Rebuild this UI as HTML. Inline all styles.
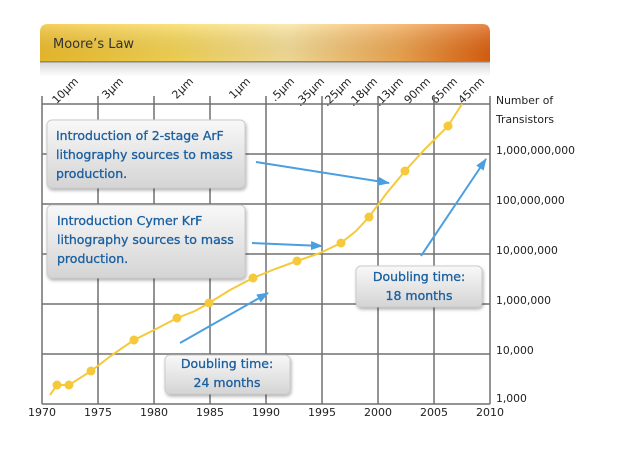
<!DOCTYPE html>
<html><head><meta charset="utf-8"><style>
body{margin:0;background:#fff;width:636px;height:450px;overflow:hidden}
svg{display:block;font-family:"DejaVu Sans","Liberation Sans",sans-serif}
</style></head><body>
<svg width="636" height="450" viewBox="0 0 636 450" xmlns="http://www.w3.org/2000/svg">
<defs>
<linearGradient id="hd" x1="0" x2="1" y1="0" y2="0">
<stop offset="0" stop-color="#f2c02a"/><stop offset="0.3" stop-color="#fad955"/><stop offset="0.55" stop-color="#fbe39a"/><stop offset="0.8" stop-color="#f3a850"/><stop offset="1" stop-color="#e0600c"/></linearGradient>
<linearGradient id="hv" x1="0" x2="0" y1="0" y2="1"><stop offset="0" stop-color="#fff" stop-opacity="0.25"/><stop offset="1" stop-color="#000" stop-opacity="0.05"/></linearGradient>
<linearGradient id="band" x1="0" x2="0" y1="0" y2="1"><stop offset="0" stop-color="#d8d8d8"/><stop offset="1" stop-color="#fff"/></linearGradient>
<linearGradient id="bx" x1="0" x2="0" y1="0" y2="1"><stop offset="0" stop-color="#f8f8f8"/><stop offset="1" stop-color="#d4d4d4"/></linearGradient>
<filter id="sh" x="-10%" y="-10%" width="125%" height="130%"><feDropShadow dx="1" dy="2" stdDeviation="1.5" flood-color="#000" flood-opacity="0.3"/></filter>
<marker id="ar" markerWidth="12" markerHeight="9" refX="11" refY="4.5" orient="auto" markerUnits="userSpaceOnUse"><path d="M0,0 L12,4.5 L0,9 z" fill="#4a9fe0"/></marker>
</defs>
<path d="M40,62 V32 Q40,24 48,24 H482 Q490,24 490,32 V62 Z" fill="url(#hd)"/>
<path d="M40,62 V32 Q40,24 48,24 H482 Q490,24 490,32 V62 Z" fill="url(#hv)"/>
<rect x="40" y="61" width="450" height="1.5" fill="#888"/>
<rect x="40" y="62.5" width="450" height="14" fill="url(#band)"/>
<text x="53" y="48" font-size="13" fill="#333">Moore’s Law</text>
<g font-size="11" fill="#222">
<text transform="translate(79,82) rotate(-45)" text-anchor="end">10µm</text>
<text transform="translate(124,82) rotate(-45)" text-anchor="end">3µm</text>
<text transform="translate(194,82) rotate(-45)" text-anchor="end">2µm</text>
<text transform="translate(251,82) rotate(-45)" text-anchor="end">1µm</text>
<text transform="translate(295,82) rotate(-45)" text-anchor="end">.5µm</text>
<text transform="translate(325,82) rotate(-45)" text-anchor="end">.35µm</text>
<text transform="translate(352,82) rotate(-45)" text-anchor="end">.25µm</text>
<text transform="translate(378,82) rotate(-45)" text-anchor="end">.18µm</text>
<text transform="translate(404,82) rotate(-45)" text-anchor="end">.13µm</text>
<text transform="translate(431,82) rotate(-45)" text-anchor="end">90nm</text>
<text transform="translate(458,82) rotate(-45)" text-anchor="end">65nm</text>
<text transform="translate(485,82) rotate(-45)" text-anchor="end">45nm</text>
</g>
<g stroke="#707070" stroke-width="1.5" fill="none">
<path d="M42,104H490M42,154H490M42,204H490M42,254H490M42,304H490M42,354H490M42,404H490"/>
<path d="M42,96V404M98,96V404M154,96V404M210,96V404M266,96V404M322,96V404M378,96V404M434,96V404M490,96V404"/>
</g>
<g font-size="11" fill="#222">
<text x="42" y="416" text-anchor="middle">1970</text><text x="98" y="416" text-anchor="middle">1975</text><text x="154" y="416" text-anchor="middle">1980</text><text x="210" y="416" text-anchor="middle">1985</text><text x="266" y="416" text-anchor="middle">1990</text><text x="322" y="416" text-anchor="middle">1995</text><text x="378" y="416" text-anchor="middle">2000</text><text x="434" y="416" text-anchor="middle">2005</text><text x="490" y="416" text-anchor="middle">2010</text>
</g>
<g font-size="10.8" fill="#222">
<text x="496" y="104">Number of</text><text x="496" y="123">Transistors</text>
<text x="496" y="154">1,000,000,000</text><text x="496" y="204">100,000,000</text><text x="496" y="254">10,000,000</text><text x="496" y="304">1,000,000</text><text x="496" y="354">10,000</text><text x="496" y="402">1,000</text>
</g>
<polyline fill="none" stroke="#f6c93a" stroke-width="2" points="50,395 57,385 69,385 91,371 112,355 134,340 156,329 177,318 195,311 209,303 230,290 253,278 275,269 297,261 320,253 341,243 356,231 369,217 386,194 405,171 425,149 448,126 462,104"/>
<g fill="#f6c93a"><circle cx="57" cy="385" r="4.5"/><circle cx="69" cy="385" r="4.5"/><circle cx="91" cy="371" r="4.5"/><circle cx="134" cy="340" r="4.5"/><circle cx="177" cy="318" r="4.5"/><circle cx="209" cy="303" r="4.5"/><circle cx="253" cy="278" r="4.5"/><circle cx="297" cy="261" r="4.5"/><circle cx="341" cy="243" r="4.5"/><circle cx="369" cy="217" r="4.5"/><circle cx="405" cy="171" r="4.5"/><circle cx="448" cy="126" r="4.5"/></g>
<g stroke="#4a9fe0" stroke-width="2" marker-end="url(#ar)">
<line x1="256" y1="162" x2="389" y2="183"/><line x1="252" y1="243" x2="322" y2="246"/><line x1="180" y1="343" x2="268" y2="293"/><line x1="421" y1="256" x2="486" y2="159"/>
</g>
<g filter="url(#sh)" fill="url(#bx)" stroke="#ccc">
<rect x="47" y="120" width="198" height="68" rx="5"/><rect x="47" y="205" width="198" height="73" rx="5"/><rect x="165" y="355" width="125" height="39" rx="5"/><rect x="356" y="266" width="126" height="41" rx="5"/>
</g>
<g font-size="12.5" fill="#1a5fa0" stroke="#1a5fa0" stroke-width="0.3">
<text x="56" y="140">Introduction of 2-stage ArF</text><text x="56" y="159">lithography sources to mass</text><text x="56" y="178">production.</text>
<text x="57" y="225">Introduction Cymer KrF</text><text x="57" y="244">lithography sources to mass</text><text x="57" y="263">production.</text>
<text x="227" y="368" text-anchor="middle">Doubling time:</text><text x="227" y="387" text-anchor="middle">24 months</text>
<text x="419" y="281" text-anchor="middle">Doubling time:</text><text x="419" y="300" text-anchor="middle">18 months</text>
</g>
</svg>
</body></html>
